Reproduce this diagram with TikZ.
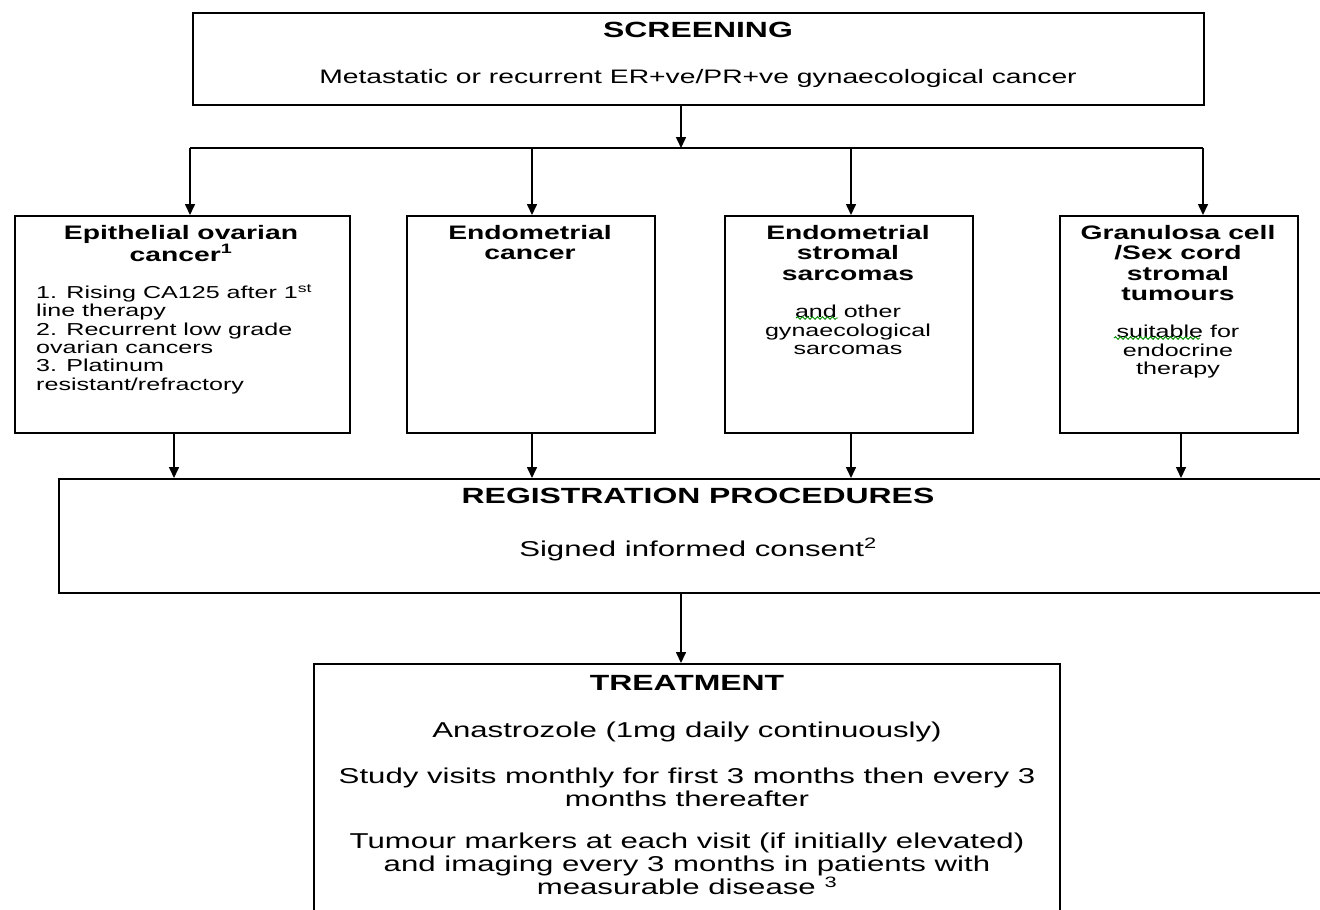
\documentclass[tikz,border=0pt]{standalone}
\usepackage{fontspec}
\setmainfont[FakeStretch=1.45]{Liberation Sans}
\usetikzlibrary{arrows,arrows.meta,positioning,decorations.pathmorphing}
\tikzstyle{box}=[draw,line width=1.8pt,rectangle,inner sep=0pt,anchor=north west]
\tikzstyle{arrow}=[draw,line width=1.6pt,-{Triangle[length=11pt,width=10pt]}]
\tikzstyle{line}=[draw,line width=1.6pt,-]
\tikzstyle{squiggle}=[draw,green!55!black,line width=0.9pt,decorate,decoration={snake,amplitude=1.3pt,segment length=5pt}]
\tikzstyle{bigtitle}=[font=\fontsize{22}{26}\selectfont\bfseries,inner sep=0pt,anchor=north]
\tikzstyle{bigtext}=[font=\fontsize{21.5}{23}\selectfont,inner sep=0pt,anchor=north,align=center]
\tikzstyle{subtitle}=[font=\fontsize{19.5}{20.5}\selectfont\bfseries,inner sep=0pt,anchor=north,align=center]
\tikzstyle{subtext}=[font=\fontsize{17.3}{18.4}\selectfont,inner sep=0pt,anchor=north,align=center]
\begin{document}
\begin{tikzpicture}[x=1pt,y=-1pt]
    \useasboundingbox (0,0) rectangle (1320,910);
    % First the boxes
    \node[box,minimum width=1011pt,minimum height=92pt] (screen) at (192,12) {};
    \node[box,minimum width=335pt,minimum height=217pt] (epi) at (14,215) {};
    \node[box,minimum width=248pt,minimum height=217pt] (endo) at (406,215) {};
    \node[box,minimum width=248pt,minimum height=217pt] (stromal) at (724,215) {};
    \node[box,minimum width=238pt,minimum height=217pt] (gran) at (1059,215) {};
    \node[box,minimum width=1300pt,minimum height=114pt] (reg) at (58,478) {};
    \node[box,minimum width=746pt,minimum height=290pt] (treat) at (313,663) {};

    % Then the texts
    \node[bigtitle] (screentitle) at (698,22) {SCREENING};
    \node[bigtext,font=\fontsize{19.5}{23}\selectfont] (screentext) at (698,69) {Metastatic or recurrent ER+ve/PR+ve gynaecological cancer};

    \node[subtitle] (epititle) at (181,225) {Epithelial ovarian\\cancer\textsuperscript{1}};
    \node[subtext,anchor=north west,align=left] (epilist) at (36,284) {1. Rising CA125 after 1\textsuperscript{st}\\line therapy\\2. Recurrent low grade\\ovarian cancers\\3. Platinum\\resistant/refractory};
    \node[subtitle] (endotitle) at (530,225) {Endometrial\\cancer};
    \node[subtitle] (stromaltitle) at (848,225) {Endometrial\\stromal\\sarcomas};
    \node[subtext] (stromaltext) at (848,305) {and other\\gynaecological\\sarcomas};
    \node[subtitle] (grantitle) at (1178,225) {Granulosa cell\\/Sex cord\\stromal\\tumours};
    \node[subtext] (grantext) at (1178,325) {suitable for\\endocrine\\therapy};

    \node[bigtitle] (regtitle) at (698,488) {REGISTRATION PROCEDURES};
    \node[bigtext] (regtext) at (698,538) {Signed informed consent\textsuperscript{2}};

    \node[bigtitle] (treattitle) at (687,675) {TREATMENT};
    \node[bigtext] (treatdrug) at (687,722) {Anastrozole (1mg daily continuously)};
    \node[bigtext] (treatvisits) at (687,768) {Study visits monthly for first 3 months then every 3\\months thereafter};
    \node[bigtext] (treatmarkers) at (687,833) {Tumour markers at each visit (if initially elevated)\\and imaging every 3 months in patients with\\measurable disease \textsuperscript{3}};

    % spelling marks under two words
    \path[squiggle] (796,318) -- (838,318);
    \path[squiggle] (1114,338) -- (1200,338);

    % Connect the boxes
    \coordinate (split) at (681,148);
    \coordinate (barL) at (190,148);
    \coordinate (barR) at (1203,148);
    \path[arrow] (screen.south -| split) -- (split);
    \path[line] (barL) -- (barR);
    \foreach \x/\dest in {190/epi, 532/endo, 851/stromal, 1203/gran}
        \path[arrow] (\x,148) -- (\x,0 |- \dest.north);
    \foreach \x/\source in {174/epi, 532/endo, 851/stromal, 1181/gran}
        \path[arrow] (\x,0 |- \source.south) -- (\x,0 |- reg.north);
    \path[arrow] (reg.south -| split) -- (split |- treat.north);
\end{tikzpicture}
\end{document}
